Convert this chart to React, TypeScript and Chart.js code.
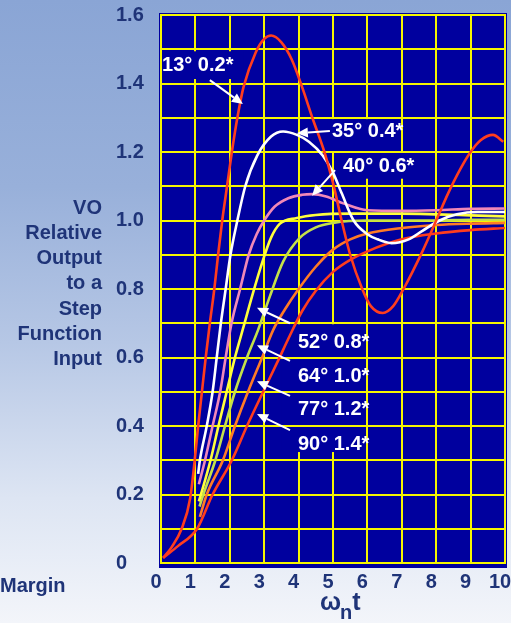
import React, { useEffect, useRef } from "react";
import { Chart, registerables } from "chart.js";

Chart.register(...registerables);

// ---- data ----
const xTickValues = [0, 1, 2, 3, 4, 5, 6, 7, 8, 9, 10];
const yTickLabels = ["0", "0.2", "0.4", "0.6", "0.8", "1.0", "1.2", "1.4", "1.6"];

const zeta02 = [
  [0.06, 0.015], [0.3, 0.045], [0.6, 0.1], [0.85, 0.19], [0.98, 0.3], [1.08, 0.4], [1.19, 0.5],
  [1.3, 0.6], [1.42, 0.7], [1.55, 0.8], [1.66, 0.9], [1.78, 1.0], [1.92, 1.1], [2.06, 1.2],
  [2.22, 1.3], [2.4, 1.39], [2.75, 1.49], [3.0, 1.53], [3.2, 1.54], [3.5, 1.52], [3.8, 1.47],
  [4.1, 1.39], [4.4, 1.3], [4.75, 1.2], [5.0, 1.11], [5.25, 1.0], [5.5, 0.9], [5.85, 0.8],
  [6.1, 0.75], [6.45, 0.73], [6.75, 0.75], [7.05, 0.8], [7.6, 0.91], [8.0, 1.0], [8.35, 1.08],
  [8.7, 1.15], [9.0, 1.2], [9.3, 1.235], [9.65, 1.25], [9.95, 1.23],
];
const zeta04 = [
  [1.08, 0.26], [1.13, 0.3], [1.33, 0.4], [1.5, 0.5], [1.62, 0.6], [1.74, 0.7], [1.88, 0.8],
  [2.02, 0.9], [2.22, 1.0], [2.45, 1.1], [2.8, 1.19], [3.2, 1.245], [3.55, 1.26], [3.95, 1.25],
  [4.3, 1.23], [4.7, 1.19], [5.0, 1.14], [5.25, 1.08], [5.6, 1.0], [6.0, 0.96], [6.3, 0.945],
  [6.7, 0.934], [7.2, 0.945], [7.6, 0.97], [8.1, 1.0], [8.6, 1.018], [9.2, 1.025], [10, 1.025],
];
const zeta06 = [
  [1.1, 0.23], [1.28, 0.3], [1.5, 0.4], [1.72, 0.5], [1.88, 0.6], [2.05, 0.7], [2.3, 0.8],
  [2.55, 0.9], [2.78, 0.96], [3.0, 1.0], [3.3, 1.04], [3.7, 1.065], [4.1, 1.075], [4.4, 1.077],
  [4.8, 1.07], [5.3, 1.05], [6.0, 1.03], [7.0, 1.028], [8.0, 1.03], [9.0, 1.034], [10, 1.035],
];
const zeta08 = [
  [1.1, 0.18], [1.16, 0.2], [1.44, 0.3], [1.67, 0.4], [1.91, 0.5], [2.15, 0.6], [2.4, 0.69],
  [2.65, 0.78], [2.95, 0.88], [3.2, 0.95], [3.45, 0.99], [3.95, 1.007], [4.5, 1.016], [5.5, 1.02],
  [7.0, 1.02], [8.0, 1.018], [9.0, 1.015], [10, 1.012],
];
const zeta10 = [
  [1.12, 0.165], [1.23, 0.2], [1.58, 0.3], [1.86, 0.4], [2.15, 0.5], [2.5, 0.6], [2.82, 0.68],
  [3.17, 0.78], [3.55, 0.88], [4.04, 0.95], [4.5, 0.98], [5.0, 0.993], [6.0, 1.0], [7.0, 1.0],
  [8.0, 1.0], [9.0, 1.002], [10, 1.002],
];
const zeta12 = [
  [1.13, 0.135], [1.33, 0.2], [1.8, 0.3], [2.15, 0.4], [2.53, 0.5], [2.94, 0.6], [3.26, 0.68],
  [3.6, 0.74], [4.0, 0.8], [4.5, 0.865], [5.0, 0.915], [5.5, 0.945], [6.0, 0.962], [7.0, 0.978],
  [8.0, 0.987], [9.0, 0.991], [10, 0.993],
];
const zeta14 = [
  [0.06, 0.015], [0.5, 0.05], [1.05, 0.1], [1.5, 0.2], [2.06, 0.3], [2.5, 0.4], [2.97, 0.5],
  [3.4, 0.59], [3.75, 0.665], [4.1, 0.735], [4.5, 0.795], [5.0, 0.85], [5.5, 0.885], [6.0, 0.91],
  [7.0, 0.945], [8.0, 0.962], [9.0, 0.972], [10, 0.978],
];

const curveLabels = ["13° 0.2*", "35° 0.4*", "40° 0.6*", "52° 0.8*", "64° 1.0*", "77° 1.2*", "90° 1.4*"];
const yTitleLines = ["VO", "Relative", "Output", "to a", "Step", "Function", "Input"];
const sideNote = "Margin";

// annotation anchors, in data units (t, value)
const labelAt = [[0.03, 1.454], [4.97, 1.261], [5.29, 1.159], [3.98, 0.645], [3.98, 0.546], [3.98, 0.447], [3.98, 0.347]];
const arrowFrom = [[1.42, 1.41], [4.91, 1.261], [5.06, 1.147], [3.75, 0.7], [3.75, 0.59], [3.75, 0.488], [3.75, 0.388]];
const arrowTo = [[2.38, 1.34], [3.95, 1.255], [4.39, 1.072], [2.79, 0.745], [2.79, 0.636], [2.79, 0.531], [2.79, 0.435]];
// areas behind labels where the vertical grid is hidden: [t0, t1, v0, v1]
const gridGaps = [[0.1, 2.4, 1.494, 1.413], [4.85, 6.3, 1.296, 1.2], [5.5, 7.5, 1.2, 1.122], [3.5, 5.5, 0.697, 0.324]];

const PLOT_BG = "#00009e";
const GRID = "#f6f600";
const NAVY = "#1f3478";
const FONT = "'Liberation Sans', Arial, Helvetica, sans-serif";

const colors = ["#ff3c1e", "#ffffff", "#f088b8", "#ffff3c", "#c4e04a", "#ff7a26", "#ff3c1e"];
const seriesList = [zeta02, zeta04, zeta06, zeta08, zeta10, zeta12, zeta14];

function drawArrow(ctx: CanvasRenderingContext2D, x0: number, y0: number, x1: number, y1: number) {
  const ang = Math.atan2(y1 - y0, x1 - x0);
  const head = 11;
  const half = 5;
  const bx = x1 - head * Math.cos(ang);
  const by = y1 - head * Math.sin(ang);
  ctx.beginPath();
  ctx.moveTo(x0, y0);
  ctx.lineTo(bx, by);
  ctx.stroke();
  ctx.beginPath();
  ctx.moveTo(x1, y1);
  ctx.lineTo(bx + half * Math.sin(ang), by - half * Math.cos(ang));
  ctx.lineTo(bx - half * Math.sin(ang), by + half * Math.cos(ang));
  ctx.closePath();
  ctx.fill();
}

const decorPlugin = {
  id: "decor",
  beforeDraw(chart: any) {
    const { ctx, chartArea: a } = chart;
    ctx.save();
    ctx.fillStyle = PLOT_BG;
    ctx.fillRect(a.left - 2, a.top - 2, a.right - a.left + 4, a.bottom - a.top + 7);
    ctx.restore();
  },
  beforeDatasetsDraw(chart: any) {
    const { ctx, chartArea: a } = chart;
    const x = chart.scales.x;
    const y = chart.scales.y;
    ctx.save();
    ctx.fillStyle = PLOT_BG;
    for (const [t0, t1, v0, v1] of gridGaps) {
      const px0 = x.getPixelForValue(t0);
      const px1 = x.getPixelForValue(t1);
      const py0 = y.getPixelForValue(v0);
      const py1 = y.getPixelForValue(v1);
      ctx.fillRect(Math.min(px0, px1), Math.min(py0, py1), Math.abs(px1 - px0), Math.abs(py1 - py0));
    }
    ctx.strokeStyle = GRID;
    ctx.lineWidth = 2;
    for (const tick of y.ticks) {
      const py = Math.round(y.getPixelForValue(tick.value));
      ctx.beginPath();
      ctx.moveTo(a.left - 1, py);
      ctx.lineTo(a.right + 1, py);
      ctx.stroke();
    }
    ctx.restore();
  },
  afterDatasetsDraw(chart: any) {
    const { ctx } = chart;
    const x = chart.scales.x;
    const y = chart.scales.y;
    ctx.save();
    ctx.fillStyle = "#ffffff";
    ctx.strokeStyle = "#ffffff";
    ctx.lineWidth = 2;
    for (let i = 0; i < curveLabels.length; i++) {
      drawArrow(
        ctx,
        x.getPixelForValue(arrowFrom[i][0]),
        y.getPixelForValue(arrowFrom[i][1]),
        x.getPixelForValue(arrowTo[i][0]),
        y.getPixelForValue(arrowTo[i][1])
      );
    }
    ctx.font = `bold 20px ${FONT}`;
    ctx.textAlign = "left";
    ctx.textBaseline = "middle";
    for (let i = 0; i < curveLabels.length; i++) {
      ctx.fillText(curveLabels[i], x.getPixelForValue(labelAt[i][0]), y.getPixelForValue(labelAt[i][1]));
    }
    ctx.restore();
  },
  afterDraw(chart: any) {
    const { ctx, chartArea: a } = chart;
    const y = chart.scales.y;
    ctx.save();
    ctx.fillStyle = NAVY;
    ctx.font = `bold 20px ${FONT}`;
    ctx.textAlign = "right";
    ctx.textBaseline = "alphabetic";
    const first = y.getPixelForValue(1.0) - 7;
    yTitleLines.forEach((line, i) => {
      ctx.fillText(line, a.left - 59, first + i * 25.3);
    });
    ctx.textAlign = "left";
    ctx.fillText(sideNote, 0, a.bottom + 29);
    // x title: omega with subscript n, then t
    const base = a.bottom + 47;
    let cx = (a.left + a.right) / 2 - 13;
    ctx.font = `bold 25px ${FONT}`;
    ctx.fillText("ω", cx, base);
    cx += ctx.measureText("ω").width - 1;
    ctx.font = `bold 20px ${FONT}`;
    ctx.fillText("n", cx, base + 9);
    cx += ctx.measureText("n").width;
    ctx.font = `bold 25px ${FONT}`;
    ctx.fillText("t", cx, base);
    ctx.restore();
  },
};

export default function App() {
  const ref = useRef<HTMLCanvasElement>(null);
  useEffect(() => {
    if (!ref.current) return;
    const chart = new Chart(ref.current, {
      type: "line",
      data: {
        datasets: seriesList.map((s, i) => ({
          label: curveLabels[i],
          data: s.map(([t, v]) => ({ x: t, y: v })),
          borderColor: colors[i],
          borderWidth: 2.6,
          pointRadius: 0,
          fill: false,
          cubicInterpolationMode: "monotone" as const,
        })),
      },
      options: {
        animation: false,
        responsive: false,
        devicePixelRatio: 1,
        layout: { padding: { left: 116, right: 6, top: 15, bottom: 0 } },
        plugins: { legend: { display: false }, tooltip: { enabled: false } },
        scales: {
          x: {
            type: "linear",
            min: 0,
            max: 10,
            afterBuildTicks: (s: any) => {
              s.ticks = xTickValues.map((v) => ({ value: v }));
            },
            afterFit: (s: any) => {
              s.height = 60;
              s.paddingLeft = 0;
              s.paddingRight = 0;
            },
            grid: { color: GRID, lineWidth: 2, drawTicks: false },
            border: { display: false },
            ticks: {
              autoSkip: false,
              maxRotation: 0,
              padding: 7,
              labelOffset: -5,
              color: NAVY,
              font: { family: FONT, size: 20, weight: "bold" },
              callback: (v: any) => String(v),
            },
          },
          y: {
            type: "linear",
            min: 0,
            max: 1.6,
            afterFit: (s: any) => {
              s.width = 45;
              s.paddingTop = 0;
              s.paddingBottom = 0;
            },
            grid: { display: false, drawTicks: false },
            border: { display: false },
            ticks: {
              stepSize: 0.1,
              autoSkip: false,
              crossAlign: "far",
              padding: 0,
              color: NAVY,
              font: { family: FONT, size: 20, weight: "bold" },
              callback: (v: any) => {
                const k = Math.round(Number(v) * 10);
                return k % 2 === 0 ? yTickLabels[k / 2] : "";
              },
            },
          },
        },
      },
      plugins: [decorPlugin],
    });
    return () => chart.destroy();
  }, []);

  return (
    <div
      style={{
        position: "fixed",
        left: 0,
        top: 0,
        width: 511,
        height: 623,
        background:
          "linear-gradient(180deg, #8aa5d5 0%, #98b0da 30%, #b6c7e5 55%, #dde5f3 80%, #f3f5fa 100%)",
      }}
    >
      <canvas ref={ref} width={511} height={623} style={{ display: "block", width: 511, height: 623 }} />
    </div>
  );
}
